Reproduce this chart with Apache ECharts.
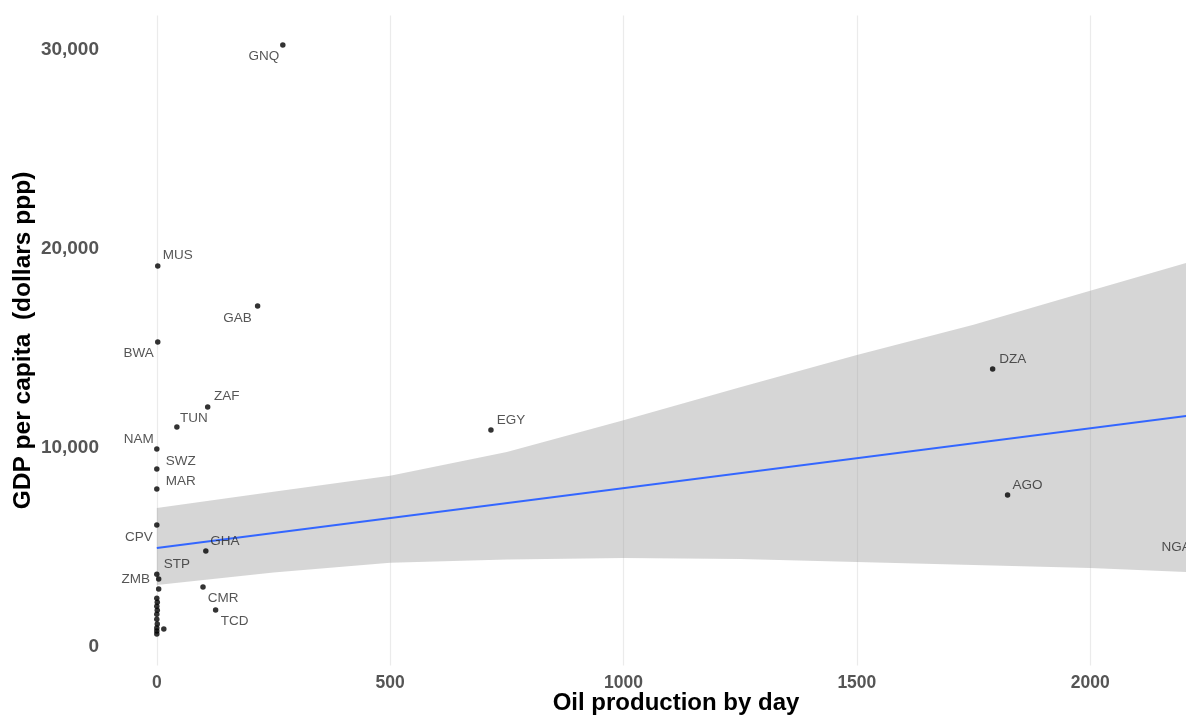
<!DOCTYPE html>
<html><head><meta charset="utf-8">
<script src="https://cdn.jsdelivr.net/npm/echarts@6/dist/echarts.min.js"></script>
<style>html,body{margin:0;padding:0;background:#fff;overflow:hidden}#c{width:1186px;height:716px}</style>
</head><body><div id="c"></div>
<script>
// ---- data ----
const codes = ['GNQ','MUS','GAB','BWA','DZA','ZAF','TUN','EGY','NAM','SWZ','MAR','AGO','CPV','GHA','STP','ZMB','CMR','TCD','NGA',
               '','','','','','','','','','','',''];
const oil   = [270, 2, 216, 2, 1791, 109, 43, 716, 0, 0, 0, 1823, 0, 105, 0, 4, 99, 126, 2225,
               4, 0, 1, 0, 1, 0, 0, 1, 0, 0, 0, 15];
const gdp   = [30250, 19150, 17140, 15330, 13970, 12060, 11060, 10900, 9950, 8950, 7940, 7640, 6130, 4820, 3660, 3420, 3020, 1860, 5580,
               2920, 2450, 2250, 2050, 1850, 1650, 1400, 1150, 950, 800, 650, 905];
const fitX  = [0, 2225];
const fitY  = [4975, 11670];
const bandX     = [0, 250, 500, 750, 1000, 1250, 1500, 1750, 2000, 2225];
const bandLower = [3116, 3740, 4230, 4400, 4470, 4420, 4270, 4120, 3970, 3750];
const bandUpper = [6985, 7800, 8600, 9800, 11400, 13050, 14670, 16200, 17900, 19430];
const xTicks = [0, 500, 1000, 1500, 2000];
const yTicks = [0, 10000, 20000, 30000];
const xTitle = 'Oil production by day';
const yTitle = 'GDP per capita  (dollars ppp)';

// ---- label layout (pixel offsets of label centre from point) ----
const labelOffsets = {GNQ:[-19,11], MUS:[20,-11], GAB:[-20,12], BWA:[-19,11], DZA:[20,-10], ZAF:[19,-11], TUN:[17,-9],
  EGY:[20,-10], NAM:[-18,-10], SWZ:[24,-8], MAR:[24,-8], AGO:[20,-10], CPV:[-18,12], GHA:[19,-10], STP:[20,-10],
  ZMB:[-23,0], CMR:[20,11], TCD:[19,11], NGA:[-19,11]};

const pts = oil.map((x, i) => {
  const c = codes[i];
  const item = {name: c, value: [x, gdp[i]]};
  if (c) item.label = {show: true, offset: labelOffsets[c] || [0,0]};
  return item;
});
const bandData = bandX.map((x, i) => [x, bandLower[i], bandUpper[i]]);
const FONT = 'Liberation Sans, Arial, sans-serif';

const chart = echarts.init(document.getElementById('c'), null, {renderer: 'canvas'});
chart.setOption({
  backgroundColor: '#ffffff',
  animation: false,
  grid: {left: 105, top: 15.5, width: 1142, height: 650, containLabel: false, outerBoundsMode: 'none'},
  xAxis: {
    type: 'value', min: -111, max: 2336,
    name: xTitle, nameLocation: 'middle', nameGap: 25.5, nameMoveOverlap: false,
    nameTextStyle: {fontFamily: FONT, fontWeight: 'bold', fontSize: 24, color: '#000', verticalAlign: 'top'},
    axisLine: {show: false}, axisTick: {show: false}, splitLine: {show: false},
    axisLabel: {customValues: xTicks, margin: 9, fontFamily: FONT, fontWeight: 'bold', fontSize: 17.5, color: '#555555',
      formatter: v => String(v)}
  },
  yAxis: {
    type: 'value', min: -930, max: 31735,
    name: yTitle, nameLocation: 'middle', nameGap: 69, nameRotate: 90, nameMoveOverlap: false,
    nameTextStyle: {fontFamily: FONT, fontWeight: 'bold', fontSize: 24.5, color: '#000'},
    axisLine: {show: false}, axisTick: {show: false}, splitLine: {show: false},
    axisLabel: {customValues: yTicks, margin: 6, fontFamily: FONT, fontWeight: 'bold', fontSize: 19, color: '#555555',
      formatter: v => Number(v).toLocaleString('en-US')}
  },
  series: [
    {
      type: 'line', data: [], z: 0, silent: true,
      markLine: {silent: true, z: 0, symbol: 'none', label: {show: false},
        lineStyle: {color: '#ebebeb', width: 1.2, type: 'solid'},
        data: xTicks.map(v => ({xAxis: v}))}
    },
    {
      type: 'custom', z: 1, silent: true, data: bandData,
      renderItem: function (params, api) {
        if (params.dataIndex !== 0) return {type: 'group', children: []};
        const up = bandX.map((x, i) => api.coord([x, bandUpper[i]]));
        const lo = bandX.map((x, i) => api.coord([x, bandLower[i]])).reverse();
        return {type: 'polygon', shape: {points: up.concat(lo)}, style: {fill: 'rgba(153,153,153,0.4)', stroke: 'none'}};
      }
    },
    {
      type: 'line', z: 2, silent: true, symbol: 'none',
      data: fitX.map((x, i) => [x, fitY[i]]),
      lineStyle: {color: '#3366FF', width: 2}
    },
    {
      type: 'scatter', z: 3, symbolSize: 5.5, data: pts,
      itemStyle: {color: '#000'},
      label: {show: false, position: 'inside', formatter: p => p.name,
        fontFamily: FONT, fontSize: 13.5, color: '#2b2b2b'}
    }
  ]
});
</script>
</body></html>
